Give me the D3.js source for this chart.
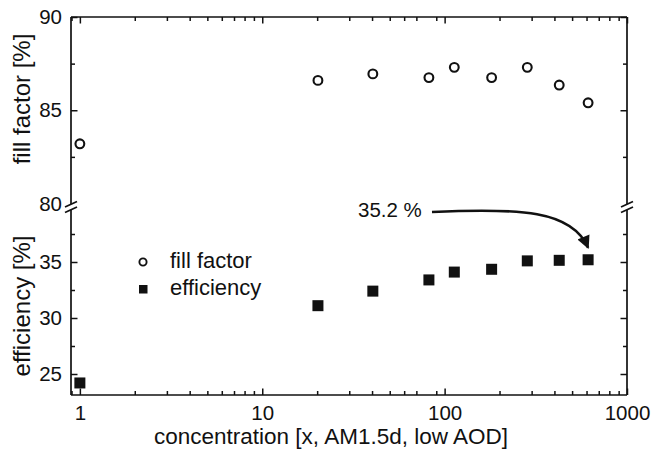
<!DOCTYPE html>
<html>
<head>
<meta charset="utf-8">
<script src="https://cdn.jsdelivr.net/npm/d3@7"></script>
<style>
  body { margin: 0; background: #fff; }
  text { font-family: "Liberation Sans", Arial, sans-serif; fill: #111; }
</style>
</head>
<body>
<div class="d3"></div>
<script>
// values
const concentration = [1, 20.2, 40.4, 82, 113, 181, 284, 425, 612];
const fillFactor = [83.2, 86.6, 86.95, 86.75, 87.3, 86.75, 87.3, 86.35, 85.4];
const efficiency = [24.2, 31.1, 32.4, 33.4, 34.1, 34.35, 35.1, 35.15, 35.2];
const xTickLabels = [1, 10, 100, 1000];
const ffTicks = [85, 90];
const ffMinor = [82.5, 87.5];
const effTicks = [25, 30, 35];
const effMinor = [27.5, 32.5, 37.5];
const annotation = '35.2 %';

(() => {
  let width = 662;
  let height = 457;
  let left = 71, right = 627, top = 17, bottom = 395;
  let breakY = 206;

  let svg = d3.select('.d3').append('svg')
    .attr('width', width)
    .attr('height', height);

  let x = d3.scaleLog().domain([0.894, 1000]).range([left, right]);
  let yFF = d3.scaleLinear().domain([80, 90]).range([203.5, top]);
  let yEff = d3.scaleLinear().domain([23.125, 40]).range([bottom, breakY]);

  let xMinor = x.ticks().filter(v => xTickLabels.indexOf(v) < 0);

  function style(g) {
    g.selectAll('.domain').remove();
    g.selectAll('line').attr('stroke', '#111').attr('stroke-width', 1.5);
    g.selectAll('text').attr('font-size', 20.5).attr('font-family', '"Liberation Sans", Arial, sans-serif').attr('fill', '#111');
  }

  // x ticks, bottom (with labels) and top
  svg.append('g').attr('transform', `translate(0,${bottom})`)
    .call(d3.axisBottom(x).tickValues(xTickLabels).tickSize(-6.5).tickPadding(10).tickFormat(d3.format('d')))
    .call(style);
  svg.append('g').attr('transform', `translate(0,${bottom})`)
    .call(d3.axisBottom(x).tickValues(xMinor).tickSize(-4).tickFormat(''))
    .call(style);
  svg.append('g').attr('transform', `translate(0,${top})`)
    .call(d3.axisTop(x).tickValues(xTickLabels).tickSize(-6.5).tickFormat(''))
    .call(style);
  svg.append('g').attr('transform', `translate(0,${top})`)
    .call(d3.axisTop(x).tickValues(xMinor).tickSize(-4).tickFormat(''))
    .call(style);

  // y ticks, left (labels) and right
  [[yFF, ffTicks.concat([80]), ffMinor], [yEff, effTicks, effMinor]].forEach(([s, major, minor]) => {
    svg.append('g').attr('transform', `translate(${left},0)`)
      .call(d3.axisLeft(s).tickValues(major).tickSize(-6.5).tickPadding(9).tickFormat(d3.format('d')))
      .call(style);
    svg.append('g').attr('transform', `translate(${left},0)`)
      .call(d3.axisLeft(s).tickValues(minor).tickSize(-4).tickFormat(''))
      .call(style);
    svg.append('g').attr('transform', `translate(${right},0)`)
      .call(d3.axisRight(s).tickValues(major.filter(v => v !== 80)).tickSize(-6.5).tickFormat(''))
      .call(style);
    svg.append('g').attr('transform', `translate(${right},0)`)
      .call(d3.axisRight(s).tickValues(minor).tickSize(-4).tickFormat(''))
      .call(style);
  });
  // no tick line at 80, it sits on the break
  svg.selectAll('.tick').filter(d => d === 80).select('line').remove();

  // frame
  let frame = svg.append('g').attr('stroke', '#111').attr('stroke-width', 1.7).attr('fill', 'none');
  frame.append('line').attr('x1', left).attr('x2', right).attr('y1', top).attr('y2', top);
  frame.append('line').attr('x1', left).attr('x2', right).attr('y1', bottom).attr('y2', bottom);
  [left, right].forEach(xx => {
    frame.append('line').attr('x1', xx).attr('x2', xx).attr('y1', top).attr('y2', breakY - 2);
    frame.append('line').attr('x1', xx).attr('x2', xx).attr('y1', breakY + 4).attr('y2', bottom);
    frame.append('line').attr('x1', xx - 6).attr('x2', xx + 6).attr('y1', breakY + 1).attr('y2', breakY - 4.5);
    frame.append('line').attr('x1', xx - 6).attr('x2', xx + 6).attr('y1', breakY + 6.5).attr('y2', breakY + 1);
  });

  // axis titles
  svg.append('text').attr('x', 331).attr('y', 444).attr('text-anchor', 'middle')
    .attr('font-size', 22.5).text('concentration [x, AM1.5d, low AOD]');
  svg.append('text').attr('transform', 'translate(30,99) rotate(-90)').attr('text-anchor', 'middle')
    .attr('font-size', 24).text('fill factor [%]');
  svg.append('text').attr('transform', 'translate(30,306) rotate(-90)').attr('text-anchor', 'middle')
    .attr('font-size', 24).text('efficiency [%]');

  // data
  svg.append('g').selectAll('circle')
    .data(concentration)
    .enter()
    .append('circle')
    .attr('cx', d => x(d))
    .attr('cy', (d, i) => yFF(fillFactor[i]))
    .attr('r', 4.4)
    .attr('fill', '#fff')
    .attr('stroke', '#111')
    .attr('stroke-width', 2.1);

  let sq = 11;
  svg.append('g').selectAll('rect')
    .data(concentration)
    .enter()
    .append('rect')
    .attr('x', d => x(d) - sq / 2)
    .attr('y', (d, i) => yEff(efficiency[i]) - sq / 2)
    .attr('width', sq)
    .attr('height', sq)
    .attr('fill', '#111');

  // legend
  let legend = svg.append('g');
  legend.append('circle').attr('cx', 143).attr('cy', 262).attr('r', 3.6)
    .attr('fill', '#fff').attr('stroke', '#111').attr('stroke-width', 1.9);
  legend.append('rect').attr('x', 139).attr('y', 285).attr('width', 8.5).attr('height', 8.5).attr('fill', '#111');
  legend.append('text').attr('x', 170).attr('y', 268).attr('font-size', 22).text('fill factor');
  legend.append('text').attr('x', 170).attr('y', 295).attr('font-size', 22).text('efficiency');

  // annotation with curved arrow
  let last = concentration.length - 1;
  let tipX = x(concentration[last]), tipY = yEff(efficiency[last]) - 12;
  svg.append('text').attr('x', 358).attr('y', 217).attr('font-size', 20.5).text(annotation);
  svg.append('defs').append('marker')
    .attr('id', 'head').attr('viewBox', '0 0 10 10').attr('refX', 9).attr('refY', 5)
    .attr('markerWidth', 5.5).attr('markerHeight', 5).attr('orient', 'auto')
    .append('path').attr('d', 'M0,0 L10,5 L0,10 z').attr('fill', '#111');
  svg.append('path')
    .attr('d', `M432,212 C520,208 572,210 ${tipX},${tipY}`)
    .attr('fill', 'none').attr('stroke', '#111').attr('stroke-width', 2.6)
    .attr('marker-end', 'url(#head)');
})();
</script>
</body>
</html>
